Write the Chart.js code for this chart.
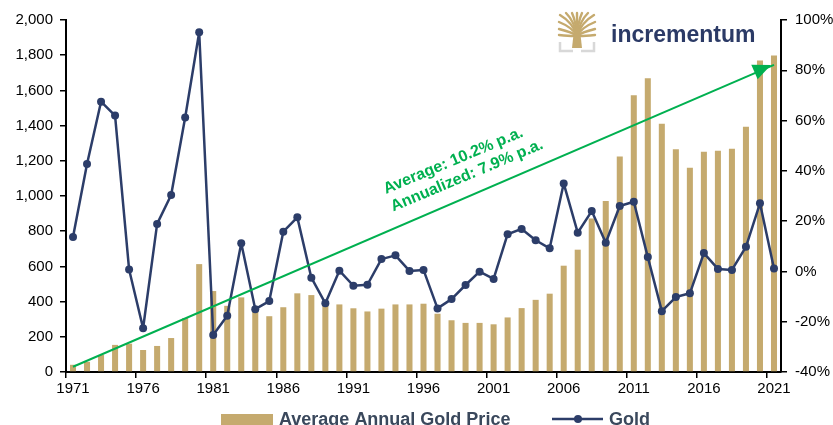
<!DOCTYPE html>
<html>
<head>
<meta charset="utf-8">
<script src="https://cdn.jsdelivr.net/npm/chart.js@4.4.1/dist/chart.umd.min.js"></script>
<style>
  html, body { margin: 0; padding: 0; background: #fff; overflow: hidden; }
  #wrap { position: relative; width: 833px; height: 425px; }
</style>
</head>
<body>
<div id="wrap"><canvas id="goldChart" width="833" height="425"></canvas></div>
<script>
// Categories
const years = ['1971', '1972', '1973', '1974', '1975', '1976', '1977', '1978', '1979', '1980',
  '1981', '1982', '1983', '1984', '1985', '1986', '1987', '1988', '1989', '1990',
  '1991', '1992', '1993', '1994', '1995', '1996', '1997', '1998', '1999', '2000',
  '2001', '2002', '2003', '2004', '2005', '2006', '2007', '2008', '2009', '2010',
  '2011', '2012', '2013', '2014', '2015', '2016', '2017', '2018', '2019', '2020', '2021'];

// Average annual gold price (USD, left axis)
const avgPrice = [41, 58, 97, 154, 161, 125, 148, 193, 307, 613,
  460, 376, 424, 360, 317, 368, 447, 437, 381, 384,
  362, 344, 360, 384, 384, 388, 331, 294, 279, 279,
  271, 310, 363, 410, 445, 604, 695, 872, 972, 1225,
  1572, 1669, 1411, 1266, 1160, 1251, 1257, 1269, 1393, 1770, 1799];

// Gold, yearly change in % (right axis)
const goldChange = [13.7, 42.7, 67.5, 62, 0.8, -22.6, 18.9, 30.4, 61.2, 95.1,
  -25.3, -17.6, 11.2, -15, -11.8, 15.8, 21.5, -2.5, -12.7, 0.3,
  -5.7, -5.3, 4.9, 6.4, 0.2, 0.6, -14.7, -11, -5.4, -0.1,
  -3, 14.8, 16.9, 12.4, 9.2, 35, 15.4, 24, 11.4, 26,
  27.7, 5.7, -15.8, -10.2, -8.7, 7.3, 1, 0.6, 9.8, 27.1, 1.2];

// Trend arrow, start and end on the left axis
const trendStart = 30;
const trendEnd = 1745;

const leftTicks = [0, 200, 400, 600, 800, 1000, 1200, 1400, 1600, 1800, 2000];
const rightTicks = [-40, -20, 0, 20, 40, 60, 80, 100];

const trend = years.map((y, i) => i === 0 ? trendStart : (i === years.length - 1 ? trendEnd : null));

const GOLD = '#C5AA6E';
const NAVY = '#2C3D69';
const GREEN = '#00B050';

// Arrow head, trend text, legend and logo
const extras = {
  id: 'extras',
  afterDatasetsDraw(chart) {
    const ctx = chart.ctx;
    const pts = chart.getDatasetMeta(2).data;
    const a = pts[0], b = pts[pts.length - 1];
    const ang = Math.atan2(b.y - a.y, b.x - a.x);
    ctx.save();
    ctx.fillStyle = GREEN;
    ctx.translate(b.x - 3, b.y);
    ctx.rotate(ang);
    ctx.beginPath();
    ctx.moveTo(0, 0);
    ctx.lineTo(-18, -8);
    ctx.lineTo(-18, 8);
    ctx.closePath();
    ctx.fill();
    ctx.restore();

    // text along the trend
    ctx.save();
    ctx.fillStyle = GREEN;
    ctx.font = 'bold 16px "Liberation Sans", Arial, sans-serif';
    ctx.translate(386, 194);
    ctx.rotate(-22.8 * Math.PI / 180);
    ctx.fillText('Average: 10.2% p.a.', 0, 0);
    ctx.fillText('Annualized: 7.9% p.a.', 0, 19);
    ctx.restore();
  },
  afterDraw(chart) {
    const ctx = chart.ctx;
    ctx.save();
    // legend
    ctx.fillStyle = GOLD;
    ctx.fillRect(221, 414, 52, 12);
    ctx.fillStyle = '#3A485C';
    ctx.font = 'bold 18px "Liberation Sans", Arial, sans-serif';
    ctx.textBaseline = 'alphabetic';
    ctx.fillText('Average Annual Gold Price', 279, 425);
    ctx.fillText('Gold', 609, 425);
    ctx.strokeStyle = NAVY;
    ctx.lineWidth = 2.5;
    ctx.beginPath();
    ctx.moveTo(552, 419);
    ctx.lineTo(603, 419);
    ctx.stroke();
    ctx.fillStyle = NAVY;
    ctx.beginPath();
    ctx.arc(578, 419, 4, 0, Math.PI * 2);
    ctx.fill();

    // logo tree
    ctx.strokeStyle = GOLD;
    ctx.lineCap = 'round';
    ctx.lineWidth = 2.4;
    const bx = 577, by = 40;
    [[-18, -5], [-18, -11], [-18, -18], [-17, -25], [-11, -27], [-5, -27], [0, -27], [5, -27], [11, -27], [17, -25], [18, -18], [18, -11], [18, -5]].forEach(([dx, dy]) => {
      ctx.beginPath();
      ctx.moveTo(bx, by - 4);
      ctx.quadraticCurveTo(bx + dx * 0.25, by + dy * 0.7, bx + dx, by + dy);
      ctx.stroke();
    });
    ctx.fillStyle = GOLD;
    ctx.beginPath();
    ctx.moveTo(bx - 3, by - 10);
    ctx.lineTo(bx + 3, by - 10);
    ctx.lineTo(bx + 5, by + 8);
    ctx.lineTo(bx - 5, by + 8);
    ctx.closePath();
    ctx.fill();
    ctx.strokeStyle = '#D8D8D8';
    ctx.lineWidth = 2.5;
    ctx.lineCap = 'butt';
    ctx.beginPath();
    ctx.moveTo(560, 42); ctx.lineTo(560, 51); ctx.lineTo(573, 51);
    ctx.moveTo(594, 42); ctx.lineTo(594, 51); ctx.lineTo(581, 51);
    ctx.stroke();

    ctx.fillStyle = '#2B3A66';
    ctx.font = 'bold 23px "Liberation Sans", Arial, sans-serif';
    ctx.fillText('incrementum', 611, 42);
    ctx.restore();
  }
};

const ctx = document.getElementById('goldChart').getContext('2d');
new Chart(ctx, {
  data: {
    labels: years,
    datasets: [
      {
        type: 'bar',
        label: 'Average Annual Gold Price',
        data: avgPrice,
        yAxisID: 'y',
        backgroundColor: GOLD,
        barPercentage: 0.43,
        categoryPercentage: 1,
        order: 3
      },
      {
        type: 'line',
        label: 'Gold',
        data: goldChange,
        yAxisID: 'y1',
        borderColor: NAVY,
        backgroundColor: NAVY,
        borderWidth: 2.5,
        borderJoinStyle: 'round',
        pointRadius: 4,
        pointBackgroundColor: NAVY,
        pointBorderWidth: 0,
        tension: 0,
        order: 2
      },
      {
        type: 'line',
        label: 'Trend',
        data: trend,
        yAxisID: 'y',
        borderColor: GREEN,
        borderWidth: 2,
        pointRadius: 0,
        spanGaps: true,
        order: 1
      }
    ]
  },
  options: {
    responsive: false,
    animation: false,
    layout: { padding: { top: 20, left: 0, right: 0, bottom: 0 } },
    plugins: {
      legend: { display: false },
      tooltip: { enabled: false }
    },
    scales: {
      x: {
        offset: true,
        afterFit(s) { s.height = 53; },
        grid: {
          offset: true,
          drawOnChartArea: false,
          drawTicks: true,
          tickLength: 6,
          lineWidth: 1.5,
          color: (c) => (c.index % 5 === 0 ? '#000' : 'rgba(0,0,0,0)')
        },
        border: { color: '#000', width: 2 },
        ticks: {
          autoSkip: false,
          maxRotation: 0,
          padding: 2,
          color: '#000',
          font: { family: '"Liberation Sans", Arial, sans-serif', size: 15 },
          callback(v, i) { return i % 5 === 0 ? years[i] : ''; }
        }
      },
      y: {
        position: 'left',
        min: leftTicks[0],
        max: leftTicks[leftTicks.length - 1],
        afterFit(s) { s.width = 66; },
        afterBuildTicks(s) { s.ticks = leftTicks.map(v => ({ value: v })); },
        grid: { drawOnChartArea: false, tickLength: 6, lineWidth: 1.5, color: '#000' },
        border: { color: '#000', width: 2 },
        ticks: {
          padding: 7,
          color: '#000',
          font: { family: '"Liberation Sans", Arial, sans-serif', size: 15 },
          callback: (v) => v.toLocaleString('en-US')
        }
      },
      y1: {
        position: 'right',
        min: rightTicks[0],
        max: rightTicks[rightTicks.length - 1],
        afterFit(s) { s.width = 52; },
        afterBuildTicks(s) { s.ticks = rightTicks.map(v => ({ value: v })); },
        grid: { drawOnChartArea: false, tickLength: 6, lineWidth: 1.5, color: '#000' },
        border: { color: '#000', width: 2 },
        ticks: {
          padding: 8,
          color: '#000',
          font: { family: '"Liberation Sans", Arial, sans-serif', size: 15 },
          callback: (v) => v + '%'
        }
      }
    }
  },
  plugins: [extras]
});
</script>
</body>
</html>
